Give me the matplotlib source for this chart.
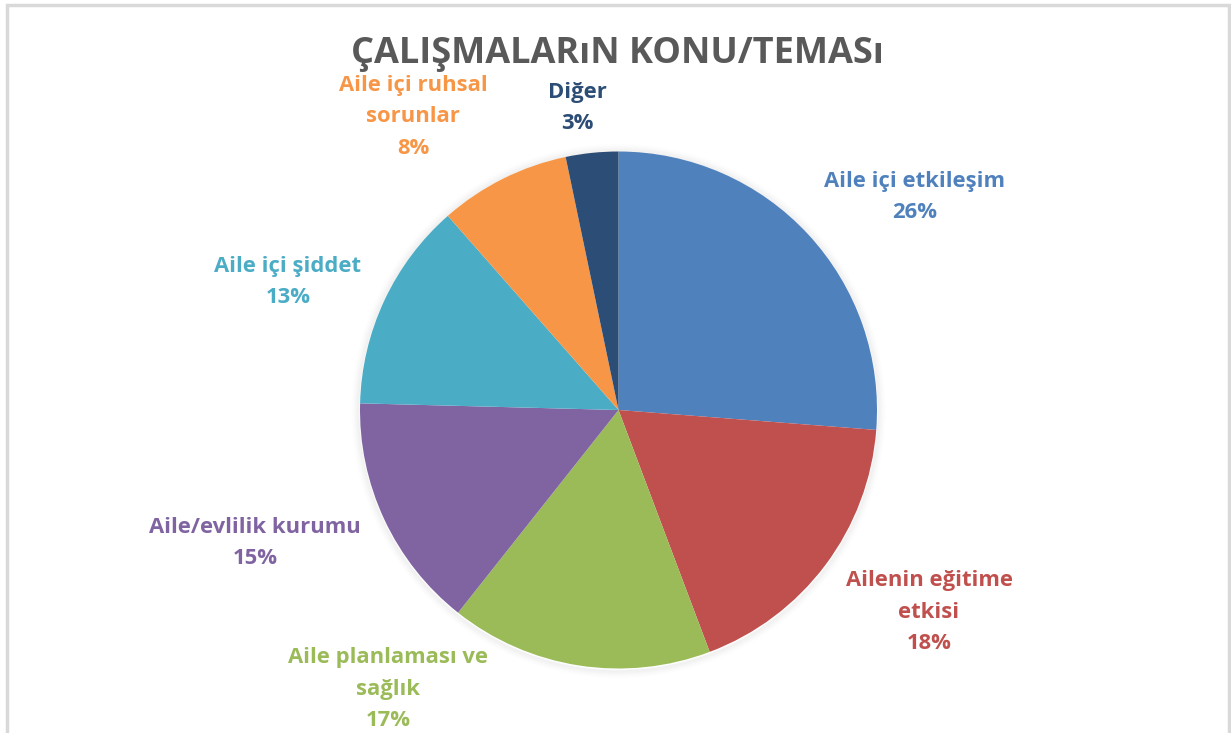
import matplotlib.pyplot as plt
from matplotlib.patches import Rectangle, Circle

# data
categories = ["Aile içi etkileşim", "Ailenin eğitime\netkisi", "Aile planlaması ve\nsağlık",
              "Aile/evlilik kurumu", "Aile içi şiddet", "Aile içi ruhsal\nsorunlar", "Diğer"]
counts = [16, 11, 10, 9, 8, 5, 2]          # slice sizes
percent_labels = [26, 18, 17, 15, 13, 8, 3]  # percentages printed on the chart
colors = ["#4F81BD", "#C0504D", "#9BBB59", "#8064A2", "#4BACC6", "#F79646", "#2C4D75"]

# label centres (pixels from top-left), as placed in the original
label_pos = [(915, 197), (929, 612), (388, 689), (255, 543), (288, 282), (413, 117), (577, 108)]

W, H = 1231, 733
plt.rcParams['font.family'] = ['Open Sans', 'DejaVu Sans']

fig = plt.figure(figsize=(W / 100, H / 100), dpi=100)
ax = fig.add_axes([0, 0, 1, 1])

cx, cy, r = 618.5, H - 410, 258.5

# soft outer shadow
for i in range(8):
    ax.add_patch(Circle((cx, cy - 1), r + 1 + i, facecolor='none', edgecolor='black',
                        alpha=0.035 * (8 - i) / 8, linewidth=1.2))

ax.pie(counts, colors=colors, startangle=90, counterclock=False,
       center=(cx, cy), radius=r, frame=True,
       wedgeprops=dict(linewidth=0))
ax.set_xlim(0, W)
ax.set_ylim(0, H)
ax.set_aspect('equal')
ax.axis('off')

for cat, p, c, (x, y) in zip(categories, percent_labels, colors, label_pos):
    ax.text(x, H - y, f"{cat}\n{p}%", color=c, fontsize=15.8,
            fontweight='bold', ha='center', va='center', linespacing=1.65)

ax.text(617, H - 54, "ÇALIŞMALARıN KONU/TEMASı", color='#595959', fontsize=26,
        fontweight='bold', ha='center', va='center')

# chart border (bottom edge cut off in the original)
ax.add_patch(Rectangle((7, -10), 1222, H - 5 + 10, fill=False, edgecolor='#D9D9D9',
                       linewidth=2.5, clip_on=False))

fig.savefig('out.png', dpi=100)
